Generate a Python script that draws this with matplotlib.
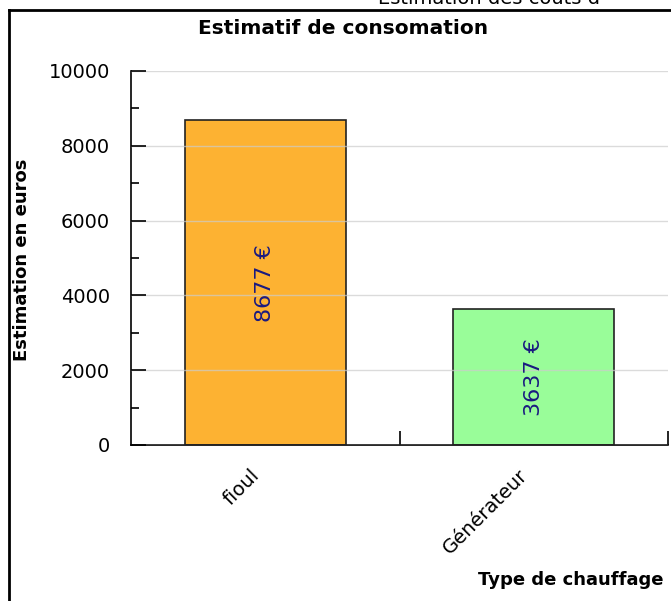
import matplotlib
matplotlib.use("Agg")
import matplotlib.pyplot as plt
from matplotlib.ticker import MultipleLocator
from matplotlib.lines import Line2D

categories = ["fioul", "Générateur"]
values = [8677, 3637]
value_labels = ["8677 €", "3637 €"]
colors = ["#FDB232", "#99FD99"]

W, H = 671, 601
fig = plt.figure(figsize=(W / 100, H / 100), dpi=100)

# outer frame (left and top visible)
fig.add_artist(Line2D([9 / W, 9 / W], [0, 1 - 10 / H], color="black", lw=2, transform=fig.transFigure))
fig.add_artist(Line2D([9 / W, 1], [1 - 10 / H, 1 - 10 / H], color="black", lw=2, transform=fig.transFigure))
fig.text(378 / W, 1 - 4 / H, "Estimation des coûts d", fontsize=14, va="baseline", ha="left")

x0, x1 = 131, 668
y0, y1 = 445, 71
ax = fig.add_axes([x0 / W, 1 - y0 / H, (x1 - x0) / W, (y0 - y1) / H])
ax.set_xlim(0, 2)
ax.set_ylim(0, 10000)

xs = [i + 0.5 for i in range(len(categories))]
ax.bar(xs, values, width=0.6, color=colors, edgecolor="#222222", linewidth=1.2, zorder=2)
for x, v, lab in zip(xs, values, value_labels):
    ax.text(x, v / 2, lab, rotation=90, ha="center", va="center", fontsize=16, color="#1a1a80", zorder=4)

ax.yaxis.set_major_locator(MultipleLocator(2000))
ax.yaxis.set_minor_locator(MultipleLocator(1000))
ax.grid(axis="y", which="major", color="#cccccc", lw=1, alpha=0.7, zorder=3)
ax.set_axisbelow(False)
ax.tick_params(axis="y", which="major", direction="in", length=11, width=1.2, labelsize=14, pad=15, colors="black")
ax.tick_params(axis="y", which="minor", direction="in", length=6, width=1.2)
for s in ["top", "right"]:
    ax.spines[s].set_visible(False)
for s in ["left", "bottom"]:
    ax.spines[s].set_linewidth(1.2)

ax.set_xticks([1, 2])
ax.set_xticklabels([])
ax.tick_params(axis="x", direction="in", length=10, width=1.2)
for x, c in zip(xs, categories):
    ax.annotate(c, xy=(x, 0), xycoords=("data", "axes fraction"), xytext=(-11, -15), textcoords="offset points",
                rotation=45, ha="right", va="top", rotation_mode="anchor", fontsize=14)

fig.text(343 / W, 1 - 28.5 / H, "Estimatif de consomation", fontsize=14.5, fontweight="bold", ha="center", va="center")
fig.text(22 / W, 1 - 260 / H, "Estimation en euros", fontsize=13, fontweight="bold", ha="center", va="center", rotation=90)
fig.text(663 / W, 1 - 580 / H, "Type de chauffage", fontsize=13, fontweight="bold", ha="right", va="center")

fig.savefig("out.png", dpi=100)
